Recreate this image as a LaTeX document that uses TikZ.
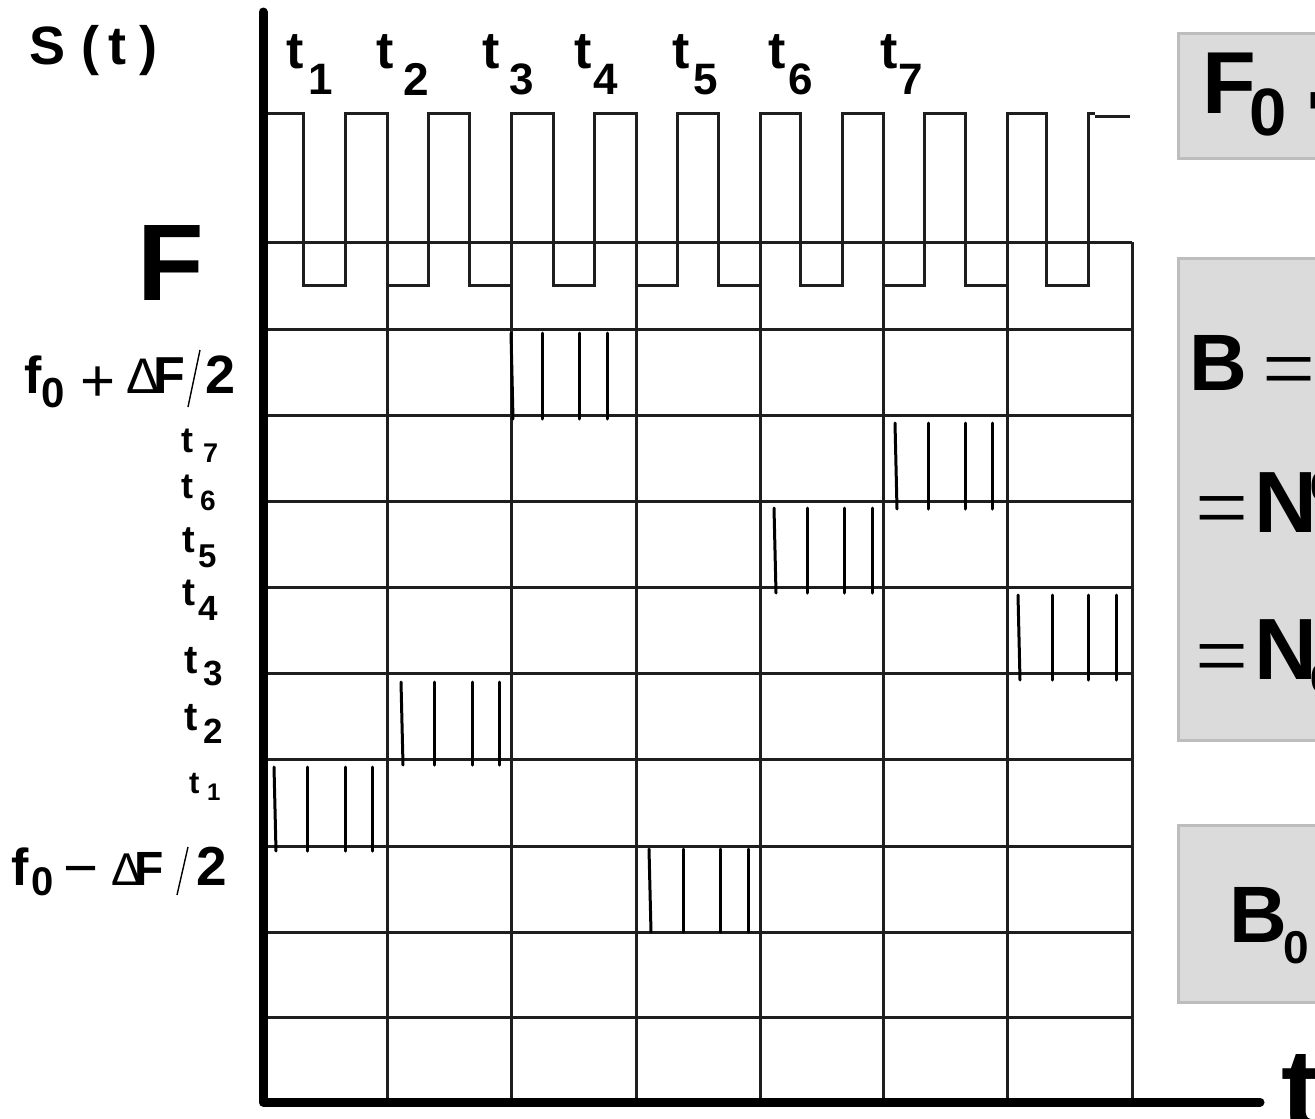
\documentclass[tikz,border=0pt]{standalone}
\usepackage{fontspec}
\setmainfont{Liberation Sans}
\newfontfamily\eqfont{Liberation Serif}
\newcommand\fsz[1]{\fontsize{#1}{#1}\selectfont}
\definecolor{boxgray}{HTML}{DBDBDB}
\definecolor{boxedge}{HTML}{BDBDBD}
\definecolor{inkgray}{HTML}{1E1E1E}
\tikzset{
  gridline/.style={line width=3pt, draw=inkgray},
  axisline/.style={line width=9pt, line cap=round, line join=round, draw=black},
  wave/.style={line width=3pt, draw=inkgray, line join=miter},
  spike/.style={line width=3pt, line cap=round, draw=black},
  fbox/.style={fill=boxgray, draw=boxedge, line width=3pt},
  lbl/.style={inner sep=0pt, outer sep=0pt, anchor=base west, font=\bfseries},
  rlbl/.style={inner sep=0pt, outer sep=0pt, anchor=base west, font=\mdseries},
  slashline/.style={line width=1.4pt, draw=black},
}
\begin{document}
\begin{tikzpicture}[x=1pt,y=-1pt]
\useasboundingbox (0,0) rectangle (1315,1119);
\fill[white] (0,0) rectangle (1315,1119);

% ---- grey boxes (cut by the right edge) ----
\draw[fbox] (1178,33) rectangle (1335,158);
\draw[fbox] (1178,258) rectangle (1335,740);
\draw[fbox] (1178,825) rectangle (1335,1002);

% ---- grid ----
\foreach \yy in {242,329,415,501,587,673,759,846,932,1017}
  \draw[gridline] (263,\yy) -- (1132,\yy);
\foreach \xx in {387,511,636,760,883,1007,1132}
  \draw[gridline] (\xx,242) -- (\xx,1102);

% ---- square wave S(t) ----
\draw[wave] (267,113) -- (303,113) -- (303,285) -- (345,285) -- (345,113)
  -- (387,113) -- (387,285) -- (428,285) -- (428,113)
  -- (469,113) -- (469,285) -- (511,285) -- (511,113)
  -- (553,113) -- (553,285) -- (594,285) -- (594,113)
  -- (636,113) -- (636,285) -- (677,285) -- (677,113)
  -- (718,113) -- (718,285) -- (760,285) -- (760,113)
  -- (800,113) -- (800,285) -- (842,285) -- (842,113)
  -- (883,113) -- (883,285) -- (924,285) -- (924,113)
  -- (965,113) -- (965,285) -- (1007,285) -- (1007,113)
  -- (1046,113) -- (1046,285) -- (1088,285) -- (1088,113) -- (1095,113);
\draw[wave] (1095,116) -- (1130,116);

% ---- spectral lines (4 per time slot) ----
% t1
\draw[spike] (274,767) -- (276,851);
\foreach \xx in {307,345,372} \draw[spike] (\xx,767) -- (\xx,851);
% t2
\draw[spike] (401,682) -- (403,765);
\foreach \xx in {434,472,499} \draw[spike] (\xx,682) -- (\xx,765);
% t3
\draw[spike] (511,333) -- (513,419);
\foreach \xx in {542,579,607} \draw[spike] (\xx,333) -- (\xx,419);
% t5
\draw[spike] (649,849) -- (651,932);
\foreach \xx in {683,720,748} \draw[spike] (\xx,849) -- (\xx,932);
% t6
\draw[spike] (774,508) -- (776,593);
\foreach \xx in {807,844,872} \draw[spike] (\xx,508) -- (\xx,593);
% t7
\draw[spike] (895,423) -- (897,509);
\foreach \xx in {928,965,992} \draw[spike] (\xx,423) -- (\xx,509);
% t4
\draw[spike] (1018,595) -- (1020,680);
\foreach \xx in {1052,1088,1116} \draw[spike] (\xx,595) -- (\xx,680);

% ---- axes ----
\draw[axisline] (263,12) -- (263,1102) -- (1260,1102);

% ---- S(t) and F ----
\node[lbl] (St) at (29,64) {\fsz{54}S\hspace{16pt}(\hspace{10pt}t\hspace{13pt})};
\node[lbl] (Fbig) at (137,300) {\fsz{109}F};

% ---- top time labels ----
\node[lbl] (tt1) at (286,68) {\fsz{52}t};  \node[lbl] (ts1) at (308,94) {\fsz{44}1};
\node[lbl] (tt2) at (376,68) {\fsz{52}t};  \node[lbl] (ts2) at (403,95) {\fsz{46}2};
\node[lbl] (tt3) at (482,68) {\fsz{52}t};  \node[lbl] (ts3) at (509,94) {\fsz{44}3};
\node[lbl] (tt4) at (574,68) {\fsz{52}t};  \node[lbl] (ts4) at (593,94) {\fsz{44}4};
\node[lbl] (tt5) at (672,68) {\fsz{52}t};  \node[lbl] (ts5) at (693,94) {\fsz{44}5};
\node[lbl] (tt6) at (768,68) {\fsz{52}t};  \node[lbl] (ts6) at (788,94) {\fsz{44}6};
\node[lbl] (tt7) at (880,68) {\fsz{52}t};  \node[lbl] (ts7) at (898,94) {\fsz{44}7};

% ---- left frequency labels ----
\node[lbl] (fa) at (24,393) {\fsz{52}f};
\node[lbl] (fa0) at (41,407) {\fsz{42}0};
\node[rlbl] (fap) at (80,401) {\fsz{60}+};
\node[rlbl] (faD) at (126,393) {\fsz{50}Δ};
\node[lbl] (faF) at (153,393) {\fsz{52}F};
\draw[slashline] (188,407) -- (200,350);
\node[lbl] (fa2) at (205,393) {\fsz{54}2};

\node[lbl] (lt7) at (181,452) {\fsz{36}t}; \node[lbl] (ls7) at (203,462) {\fsz{27}7};
\node[lbl] (lt6) at (181,498) {\fsz{36}t}; \node[lbl] (ls6) at (200,510) {\fsz{28}6};
\node[lbl] (lt5) at (182,552) {\fsz{38}t}; \node[lbl] (ls5) at (198,567) {\fsz{33}5};
\node[lbl] (lt4) at (182,605) {\fsz{39}t}; \node[lbl] (ls4) at (198,620) {\fsz{35}4};
\node[lbl] (lt3) at (184,673) {\fsz{40}t}; \node[lbl] (ls3) at (203,685) {\fsz{35}3};
\node[lbl] (lt2) at (184,730) {\fsz{40}t}; \node[lbl] (ls2) at (203,743) {\fsz{35}2};
\node[lbl] (lt1) at (189,793) {\fsz{31}t}; \node[lbl] (ls1) at (207,800) {\fsz{24}1};

\node[lbl] (fb) at (12,885) {\fsz{52}f};
\node[lbl] (fb0) at (31,895) {\fsz{40}0};
\node[rlbl] (fbm) at (63,888) {\fsz{60}−};
\node[rlbl] (fbD) at (111,885) {\fsz{46}Δ};
\node[lbl] (fbF) at (134,885) {\fsz{48}F};
\draw[slashline] (177,895) -- (188,847);
\node[lbl] (fb2) at (196,885) {\fsz{55}2};

% ---- box texts ----
\node[lbl] (F0) at (1202,113) {\fsz{88}F};
\node[lbl] (F0s) at (1249,135) {\fsz{67}0};
\node[lbl] (F0d) at (1303,137) {\fsz{110}·};

\node[lbl] (Bb) at (1189,390) {\fsz{80}B};
\node[rlbl] (Beq) at (1262,400) {\eqfont\fsz{94}=};
\node[rlbl] (eq1) at (1195,539) {\eqfont\fsz{94}=};
\node[lbl] (N1) at (1254,532) {\fsz{87}N};
\node[lbl] (N1s) at (1310,500) {\fsz{40}0};
\node[rlbl] (eq2) at (1195,687) {\eqfont\fsz{94}=};
\node[lbl] (N2) at (1254,679) {\fsz{87}N};
\node[lbl] (N2s) at (1310,692) {\fsz{40}0};

\node[lbl] (B0) at (1229,942) {\fsz{80}B};
\node[lbl] (B0s) at (1283,963) {\fsz{46}0};

\node[lbl] (tax) at (1281,1129) {\fsz{115}t};
\end{tikzpicture}
\end{document}
